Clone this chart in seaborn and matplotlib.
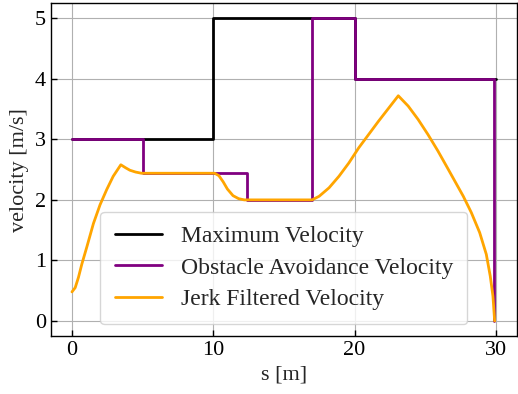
import numpy as np
import pandas as pd
import seaborn as sns
import matplotlib
matplotlib.use("Agg")
import matplotlib.pyplot as plt

# Maximum velocity profile (step)
max_s = [0, 10, 10, 20, 20, 30]
max_v = [3, 3, 5, 5, 4, 4]

# Obstacle avoidance velocity (step)
obs_s = [0, 5, 5, 12.4, 12.4, 17, 17, 20, 20, 29.9, 29.9]
obs_v = [3, 3, 2.44, 2.44, 2, 2, 5, 5, 4, 4, 0]

# Jerk filtered velocity
jerk_s = [0, 0.23, 0.46, 0.7, 1.05, 1.52, 1.99, 2.46, 2.92, 3.46, 3.8, 4.1, 4.5, 4.92,
          10.1, 10.4, 10.7, 11.0, 11.4, 11.8, 12.2,
          17.0, 17.5, 18.2, 18.9, 19.6, 20.3, 21.0, 21.7, 22.4, 23.1,
          23.8, 24.5, 25.2, 25.9, 26.6, 27.7, 28.27, 28.86, 29.33, 29.61, 29.8, 29.92]
jerk_v = [0.48, 0.55, 0.72, 0.94, 1.22, 1.61, 1.92, 2.17, 2.39, 2.58, 2.53, 2.49, 2.46, 2.44,
          2.44, 2.4, 2.3, 2.18, 2.07, 2.02, 2.0,
          2.0, 2.06, 2.2, 2.39, 2.61, 2.86, 3.08, 3.30, 3.51, 3.72,
          3.55, 3.33, 3.08, 2.81, 2.52, 2.06, 1.79, 1.46, 1.1, 0.74, 0.41, 0.0]

sns.set_style("whitegrid", {"axes.edgecolor": "black", "grid.color": "#b0b0b0",
                            "xtick.direction": "in", "ytick.direction": "in",
                            "xtick.bottom": True, "ytick.left": True})
plt.rcParams["font.family"] = ["Liberation Serif", "DejaVu Serif"]

fig, ax = plt.subplots(figsize=(5.18, 3.94), dpi=100)
fig.subplots_adjust(left=0.098, right=0.998, top=0.992, bottom=0.147)

lw = 2
sns.lineplot(x=max_s, y=max_v, sort=False, estimator=None, color="black", lw=lw,
             label="Maximum Velocity", ax=ax)
sns.lineplot(x=obs_s, y=obs_v, sort=False, estimator=None, color="purple", lw=lw,
             label="Obstacle Avoidance Velocity", ax=ax)
sns.lineplot(x=jerk_s, y=jerk_v, sort=False, estimator=None, color="orange", lw=lw,
             label="Jerk Filtered Velocity", ax=ax)

ax.set_xlabel("s [m]", fontsize=16)
ax.set_ylabel("velocity [m/s]", fontsize=16)
ax.tick_params(labelsize=16, length=4, width=1, colors="black")
ax.set_xticks([0, 10, 20, 30])
ax.set_yticks([0, 1, 2, 3, 4, 5])
for sp in ax.spines.values():
    sp.set_linewidth(1)
ax.legend(loc="lower center", fontsize=17, labelspacing=0.42, borderpad=0.6)

fig.savefig("out.png", dpi=100)
